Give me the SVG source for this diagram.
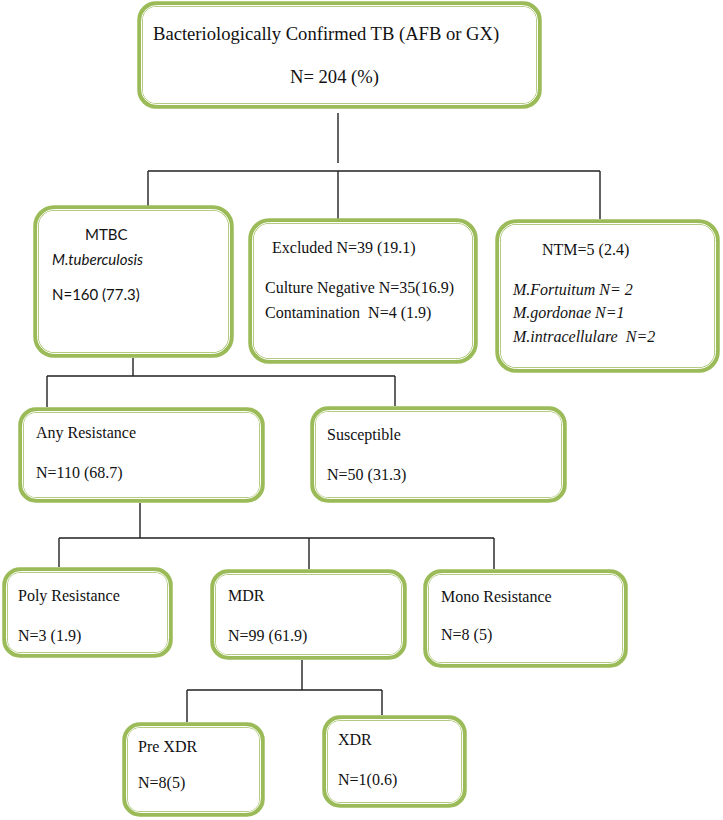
<svg xmlns="http://www.w3.org/2000/svg" width="723" height="820" viewBox="0 0 723 820">
<defs>
<style>
.box{fill:#fff;stroke:#9BBB59;stroke-width:5.5}
.inner{fill:none;stroke:#fff;stroke-width:1}
.t{font-family:"Liberation Serif","Times New Roman",serif;font-size:16px;fill:#111}
.big{font-size:18.6px}
.it{font-style:italic}
.s{font-family:Lato,"Liberation Sans",sans-serif;font-size:15px;fill:#111}
.c{stroke:#222;stroke-width:1.4;fill:none}
</style>
</defs>
<rect width="723" height="820" fill="#fff"/>
<g id="connectors">
<path class="c" d="M338,113V163"/>
<path class="c" d="M148,171H600M148,171V206M338,171V219M600,171V219"/>
<path class="c" d="M133,358V376M47,376H395M47,376V407M395,376V406"/>
<path class="c" d="M140,503V538M59,538H494M59,538V567M309,538V569M494,538V569"/>
<path class="c" d="M302,660V690M187,690H382M187,690V722M382,690V715"/>
</g>
<g id="root">
<rect class="box" x="140" y="4" width="399" height="102" rx="16"/>
<rect class="inner" x="141.5" y="5.5" width="396" height="99" rx="15"/>
<text class="t big" x="153" y="40">Bacteriologically Confirmed TB (AFB or GX)</text>
<text class="t big" x="290" y="83">N= 204 (%)</text>
</g>
<g id="mtbc">
<rect class="box" x="36" y="208" width="195" height="147" rx="18"/>
<rect class="inner" x="37.5" y="209.5" width="192" height="144" rx="17"/>
<text class="s" x="85" y="240">MTBC</text>
<text class="s it" x="52" y="265">M.tuberculosis</text>
<text class="s" x="52" y="300">N=160 (77.3)</text>
</g>
<g id="excluded">
<rect class="box" x="251" y="221" width="224" height="140" rx="18"/>
<rect class="inner" x="252.5" y="222.5" width="221" height="137" rx="17"/>
<text class="t" x="272" y="253">Excluded N=39 (19.1)</text>
<text class="t" x="265" y="293">Culture Negative N=35(16.9)</text>
<text class="t" x="265" y="318" style="white-space:pre">Contamination  N=4 (1.9)</text>
</g>
<g id="ntm">
<rect class="box" x="498" y="222" width="219" height="148" rx="18"/>
<rect class="inner" x="499.5" y="223.5" width="216" height="145" rx="17"/>
<text class="t" x="542" y="255">NTM=5 (2.4)</text>
<text class="t it" x="513" y="295">M.Fortuitum N= 2</text>
<text class="t it" x="513" y="318">M.gordonae N=1</text>
<text class="t it" x="513" y="342" style="white-space:pre">M.intracellulare  N=2</text>
</g>
<g id="any-resistance">
<rect class="box" x="21" y="410" width="241" height="90" rx="15"/>
<rect class="inner" x="22.5" y="411.5" width="238" height="87" rx="14"/>
<text class="t" x="36" y="438">Any Resistance</text>
<text class="t" x="36" y="478">N=110 (68.7)</text>
</g>
<g id="susceptible">
<rect class="box" x="313" y="409" width="251" height="91" rx="15"/>
<rect class="inner" x="314.5" y="410.5" width="248" height="88" rx="14"/>
<text class="t" x="327" y="440">Susceptible</text>
<text class="t" x="327" y="480">N=50 (31.3)</text>
</g>
<g id="poly">
<rect class="box" x="5" y="570" width="165" height="85" rx="15"/>
<rect class="inner" x="6.5" y="571.5" width="162" height="82" rx="14"/>
<text class="t" x="18" y="601">Poly Resistance</text>
<text class="t" x="18" y="641">N=3 (1.9)</text>
</g>
<g id="mdr">
<rect class="box" x="213" y="572" width="191" height="85" rx="15"/>
<rect class="inner" x="214.5" y="573.5" width="188" height="82" rx="14"/>
<text class="t" x="228" y="601">MDR</text>
<text class="t" x="228" y="641">N=99 (61.9)</text>
</g>
<g id="mono">
<rect class="box" x="426" y="572" width="199" height="93" rx="15"/>
<rect class="inner" x="427.5" y="573.5" width="196" height="90" rx="14"/>
<text class="t" x="441" y="602">Mono Resistance</text>
<text class="t" x="441" y="640">N=8 (5)</text>
</g>
<g id="prexdr">
<rect class="box" x="125" y="725" width="137" height="89" rx="15"/>
<rect class="inner" x="126.5" y="726.5" width="134" height="86" rx="14"/>
<text class="t" x="138" y="752">Pre XDR</text>
<text class="t" x="138" y="788">N=8(5)</text>
</g>
<g id="xdr">
<rect class="box" x="325" y="718" width="139" height="87" rx="15"/>
<rect class="inner" x="326.5" y="719.5" width="136" height="84" rx="14"/>
<text class="t" x="338" y="745">XDR</text>
<text class="t" x="338" y="785">N=1(0.6)</text>
</g>
</svg>
